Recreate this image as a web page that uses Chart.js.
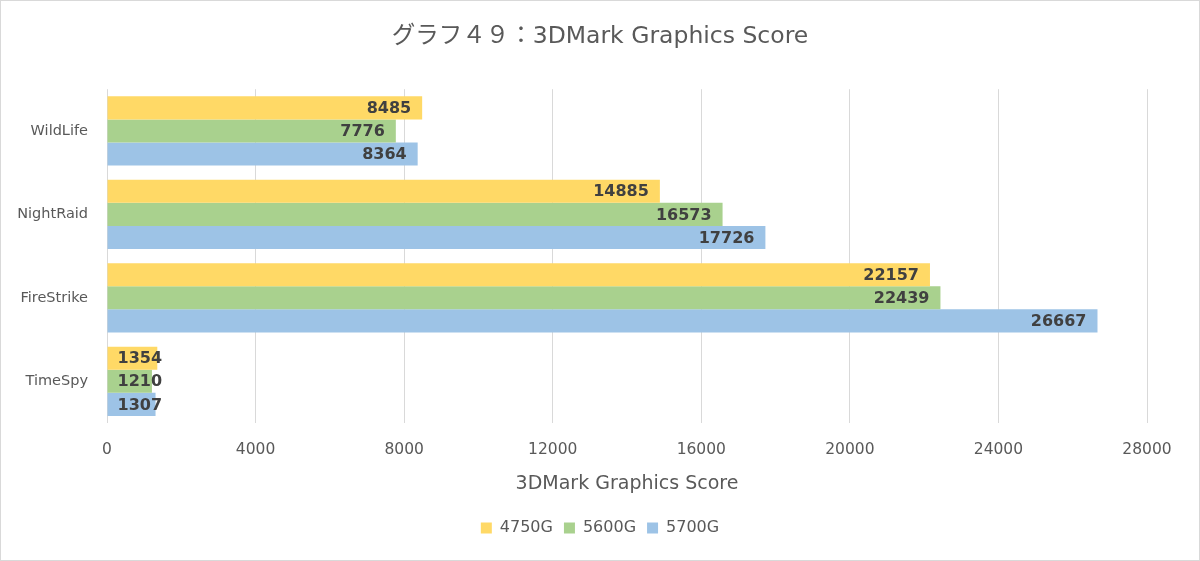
<!DOCTYPE html>
<html>
<head>
<meta charset="utf-8">
<script src="https://cdn.jsdelivr.net/npm/chart.js@4/dist/chart.umd.min.js"></script>
<style>
html,body{margin:0;padding:0;background:#fff;}
#wrap{width:1200px;height:561px;position:relative;}
</style>
</head>
<body>
<div id="wrap"><canvas id="c" width="1200" height="561"></canvas></div>
<script>
const categories = ["WildLife", "NightRaid", "FireStrike", "TimeSpy"];
const series4750G = [8485, 14885, 22157, 1354];
const series5600G = [7776, 16573, 22439, 1210];
const series5700G = [8364, 17726, 26667, 1307];
const seriesNames = ["4750G", "5600G", "5700G"];
const xTicks = [0, 4000, 8000, 12000, 16000, 20000, 24000, 28000];
const titleText = "グラフ４９：3DMark Graphics Score";
const axisTitle = "3DMark Graphics Score";

const FONT = '"DejaVu Sans", "Noto Sans CJK JP", sans-serif';

const bgPlugin = {
  id: 'bg',
  afterLayout(chart) {
    // center title and legend across the full canvas width
    [chart.titleBlock, chart.legend].forEach(b => {
      if (b) { b.left = 0; b.right = chart.width; b.width = chart.width; }
    });
  },
  beforeDraw(chart) {
    const ctx = chart.ctx;
    ctx.save();
    ctx.fillStyle = '#ffffff';
    ctx.fillRect(0, 0, chart.width, chart.height);
    ctx.strokeStyle = '#d9d9d9';
    ctx.lineWidth = 1;
    ctx.strokeRect(0.5, 0.5, chart.width - 1, chart.height - 1);
    ctx.restore();
  }
};

const labelPlugin = {
  id: 'valueLabels',
  afterDatasetsDraw(chart) {
    const ctx = chart.ctx;
    ctx.save();
    ctx.font = 'bold 16px "DejaVu Sans", sans-serif';
    ctx.fillStyle = '#404040';
    ctx.textAlign = 'right';
    ctx.textBaseline = 'middle';
    chart.data.datasets.forEach((ds, i) => {
      const meta = chart.getDatasetMeta(i);
      meta.data.forEach((el, j) => {
        const txt = String(ds.data[j]);
        const w = ctx.measureText(txt).width;
        const x = Math.max(el.x - 11, el.base + 10 + w);
        ctx.fillText(txt, x, el.y + 1);
      });
    });
    ctx.restore();
  }
};

const colors = ['#FFD966', '#A9D18E', '#9DC3E6'];
const allSeries = [series4750G, series5600G, series5700G];

new Chart(document.getElementById('c'), {
  type: 'bar',
  data: {
    labels: categories,
    datasets: allSeries.map((d, i) => ({
      label: seriesNames[i],
      data: d,
      backgroundColor: colors[i],
      borderWidth: 0,
      categoryPercentage: 0.83,
      barPercentage: 1.0
    }))
  },
  options: {
    indexAxis: 'y',
    responsive: false,
    animation: false,
    devicePixelRatio: 1,
    layout: { padding: { left: 0, right: 53, top: 0, bottom: 15 } },
    plugins: {
      title: {
        display: true,
        text: titleText,
        color: '#595959',
        font: { family: FONT, size: 23.5, weight: 'normal' },
        padding: { top: 23, bottom: 38 }
      },
      legend: {
        position: 'bottom',
        labels: {
          boxWidth: 11, boxHeight: 11, padding: 11,
          color: '#595959',
          font: { family: FONT, size: 16 }
        }
      },
      tooltip: { enabled: false }
    },
    scales: {
      x: {
        min: 0, max: 28000,
        afterBuildTicks(scale) { scale.ticks = xTicks.map(v => ({ value: v })); },
        afterFit(scale) { scale.height = 86; },
        grid: { color: '#d9d9d9', drawTicks: false, lineWidth: 1 },
        border: { display: false },
        ticks: {
          color: '#595959', padding: 18,
          font: { family: FONT, size: 15.5 },
          callback: (v) => String(v)
        },
        title: {
          display: true, text: axisTitle, color: '#595959',
          font: { family: FONT, size: 19 },
          padding: { top: 0, bottom: 14 }
        }
      },
      y: {
        afterFit(scale) { scale.width = 107; },
        grid: { display: false, drawTicks: false },
        border: { display: false },
        ticks: { color: '#595959', padding: 19, font: { family: FONT, size: 14.5 } }
      }
    }
  },
  plugins: [bgPlugin, labelPlugin]
});
</script>
</body>
</html>
